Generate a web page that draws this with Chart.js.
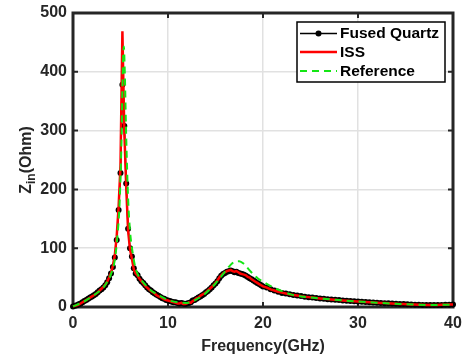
<!DOCTYPE html>
<html><head><meta charset="utf-8">
<script src="https://cdn.jsdelivr.net/npm/chart.js@4.4.1/dist/chart.umd.min.js"></script>
<style>html,body{margin:0;padding:0;background:#fff;}canvas{display:block;}</style>
</head><body>
<canvas id="c" width="462" height="358"></canvas>
<script>
// ---------- data ----------
const seriesNames = ['Fused Quartz', 'ISS', 'Reference'];
const xTickValues = [0, 10, 20, 30, 40];
const yTickValues = [0, 100, 200, 300, 400, 500];

const freq = [0,0.2,0.4,0.6,0.8,1,1.2,1.4,1.6,1.8,2,2.2,2.4,2.6,2.8,3,3.2,3.4,3.6,3.8,4,4.2,4.4,4.6,4.8,5,5.2,5.4,5.6,5.8,6,6.2,6.4,6.6,6.8,7,7.2,7.4,7.6,7.8,8,8.2,8.4,8.6,8.8,9,9.2,9.4,9.6,9.8,10,10.2,10.4,10.6,10.8,11,11.2,11.4,11.6,11.8,12,12.2,12.4,12.6,12.8,13,13.2,13.4,13.6,13.8,14,14.2,14.4,14.6,14.8,15,15.2,15.4,15.6,15.8,16,16.2,16.4,16.6,16.8,17,17.2,17.4,17.6,17.8,18,18.2,18.4,18.6,18.8,19,19.2,19.4,19.6,19.8,20,20.4,20.8,21.2,21.6,22,22.4,22.8,23.2,23.6,24,24.4,24.8,25.2,25.6,26,26.4,26.8,27.2,27.6,28,28.4,28.8,29.2,29.6,30,30.4,30.8,31.2,31.6,32,32.4,32.8,33.2,33.6,34,34.4,34.8,35.2,35.6,36,36.4,36.8,37.2,37.6,38,38.4,38.8,39.2,39.6,40];

const fusedQuartz = [1,2,3,4.5,6,8,10,12,14,16,
18,20,22,25,28,30,33,37,42,49,
57,68,84,114,165,228,378,308,210,133,
100,86,66,57,54,48,44,41,37,33,
30,28,25,23,21,19,17,15,14,12,
11,10,9,8,8,7,6,7,6,5,
6,7,8,11,12,14,16,18,20,22,
25,27,30,33,37,40,44,49,53,56,
58,60,61,62,61,59,60,58,57,56,
55,53,51,49,47,45,43,41,39,37,
35,
33,30,28,26,24,23,21.5,20.5,19.5,18.5,
17.5,16.5,16,15.2,14.5,14,13.3,12.8,12.2,11.7,
11.2,10.7,10.2,9.8,9.3,8.9,8.5,8.1,7.7,7.3,
6.9,6.5,6.2,5.8,5.5,5.2,4.9,4.6,4.3,4.0,
3.8,3.6,3.5,3.4,3.4,3.5,3.6,3.8,4,4.2];

const iss = [1,2,3,4,6,8,10,12,14,16,
18,20,22,25,28,31,34,38,43,50,
58,70,88,120,170,240,469,300,205,130,
98,82,64,57,53,48,44,40,36,33,
30,27,25,23,20,18,17,15,13,12,
11,10,9,8,7,6,6,7,5,5,
6,8,7,10,12,15,16,19,21,23,
25,28,31,34,37,41,45,50,54,57,
59,61,62,63,61,60,61,59,57,56,
55,54,51,50,47,45,43,41,39,37,
35,
33,30,28,26,24.5,23,21.5,20.5,19.5,18.5,
17.5,16.8,16,15.3,14.6,14,13.4,12.8,12.3,11.7,
11.2,10.7,10.3,9.8,9.4,9,8.6,8.2,7.8,7.4,
7,6.6,6.3,5.9,5.6,5.3,5,4.7,4.4,4.1,
3.9,3.7,3.6,3.5,3.5,3.6,3.7,3.9,4.1,4.3];

const refFreq = [0,1,2,3,3.5,4,4.4,4.7,4.9,5.1,5.2,5.3,5.35,5.45,5.6,5.8,6,6.3,6.6,7,7.5,8,9,10,11,12,13,14,15,16,16.5,17,17.5,18,18.5,19,19.5,20,21,22,23,24,26,28,30,32,34,36,38,40];
const reference = [1,8,18,30,40,56,80,125,175,280,370,435,443,400,290,185,130,90,65,50,40,31,20,12,8,7,13,24,40,60,70,77,78,73,64,55,48,43,34,27,21,18,14.5,11.7,9.3,7.3,5.5,4.0,3.4,4.2];

// ---------- drawing ----------
const AX = '#262626';
const FONT = '"Liberation Sans", Arial, sans-serif';
const toXY = (xs, ys) => xs.map((v, i) => ({x: v, y: ys[i]}));

const framePlugin = {
  id: 'frame',
  beforeDatasetsDraw(chart) {
    const {ctx, chartArea: a, scales: {x, y}} = chart;
    ctx.save();
    ctx.strokeStyle = AX;
    ctx.lineWidth = 2;
    const tl = 5;
    xTickValues.forEach(v => {
      const p = x.getPixelForValue(v);
      ctx.beginPath();
      ctx.moveTo(p, a.bottom); ctx.lineTo(p, a.bottom - tl);
      ctx.moveTo(p, a.top); ctx.lineTo(p, a.top + tl);
      ctx.stroke();
    });
    yTickValues.forEach(v => {
      const p = y.getPixelForValue(v);
      ctx.beginPath();
      ctx.moveTo(a.left, p); ctx.lineTo(a.left + tl, p);
      ctx.moveTo(a.right, p); ctx.lineTo(a.right - tl, p);
      ctx.stroke();
    });
    ctx.lineWidth = 3;
    ctx.strokeRect(a.left, a.top, a.right - a.left, a.bottom - a.top);
    // y title with subscript
    ctx.fillStyle = AX;
    ctx.translate(27, (a.top + a.bottom) / 2);
    ctx.rotate(-Math.PI / 2);
    ctx.textBaseline = 'middle';
    ctx.textAlign = 'left';
    const big = 'bold 16px ' + FONT, small = 'bold 12px ' + FONT;
    ctx.font = big; const w1 = ctx.measureText('Z').width; const w3 = ctx.measureText('(Ohm)').width;
    ctx.font = small; const w2 = ctx.measureText('in').width;
    let sx = -(w1 + w2 + w3) / 2;
    ctx.font = big; ctx.fillText('Z', sx, 0); sx += w1;
    ctx.font = small; ctx.fillText('in', sx, 5); sx += w2;
    ctx.font = big; ctx.fillText('(Ohm)', sx, 0);
    ctx.restore();
  },
  afterDatasetsDraw(chart) {
    const ctx = chart.ctx;
    const ds = chart.data.datasets;
    ctx.save();
    const bx = 297, by = 22, bw = 148, bh = 60;
    ctx.fillStyle = '#fff';
    ctx.fillRect(bx, by, bw, bh);
    ctx.strokeStyle = '#000';
    ctx.lineWidth = 1.5;
    ctx.strokeRect(bx, by, bw, bh);
    const rows = [33.5, 52, 71];
    ds.forEach((d, i) => {
      const yy = rows[i];
      ctx.save();
      ctx.strokeStyle = d.borderColor;
      ctx.lineWidth = d.borderWidth;
      ctx.setLineDash(d.borderDash || []);
      ctx.beginPath(); ctx.moveTo(300, yy); ctx.lineTo(337, yy); ctx.stroke();
      ctx.restore();
      if (d.pointRadius > 0) {
        ctx.fillStyle = d.pointBackgroundColor;
        ctx.beginPath(); ctx.arc(318.5, yy, 3, 0, Math.PI * 2); ctx.fill();
      }
      ctx.fillStyle = '#000';
      ctx.font = 'bold 15.5px ' + FONT;
      ctx.textBaseline = 'middle';
      ctx.textAlign = 'left';
      ctx.fillText(d.label, 340, yy + 0.5);
    });
    ctx.restore();
  }
};

new Chart(document.getElementById('c'), {
  type: 'line',
  data: {
    datasets: [
      {label: seriesNames[0], data: toXY(freq, fusedQuartz), borderColor: '#000', borderWidth: 1.5,
       pointRadius: 3, pointBackgroundColor: '#000', pointBorderWidth: 0, tension: 0, order: 3, clip: false},
      {label: seriesNames[1], data: toXY(freq, iss), borderColor: '#ff0000', borderWidth: 2.5,
       pointRadius: 0, tension: 0, order: 2, clip: false},
      {label: seriesNames[2], data: toXY(refFreq, reference), borderColor: '#14e614', borderWidth: 2,
       borderDash: [7, 5], pointRadius: 0, cubicInterpolationMode: 'monotone', order: 1, clip: false}
    ]
  },
  options: {
    responsive: false,
    devicePixelRatio: 1,
    animation: false,
    events: [],
    layout: {padding: {top: 13, right: 9, left: 0, bottom: 0}},
    plugins: {legend: {display: false}, tooltip: {enabled: false}},
    scales: {
      x: {
        type: 'linear', min: 0, max: 40,
        afterBuildTicks: s => { s.ticks = xTickValues.map(v => ({value: v})); },
        afterFit: s => { s.height = 51; s.paddingLeft = 0; s.paddingRight = 0; },
        grid: {color: '#e1e1e1', lineWidth: 1.5, drawTicks: false},
        border: {display: false},
        ticks: {color: AX, font: {family: FONT, size: 16, weight: 'bold'}, padding: 7, maxRotation: 0},
        title: {display: true, text: 'Frequency(GHz)', color: AX, font: {family: FONT, size: 16, weight: 'bold'}, padding: {top: 0, bottom: 2}}
      },
      y: {
        type: 'linear', min: 0, max: 500,
        afterBuildTicks: s => { s.ticks = yTickValues.map(v => ({value: v})); },
        afterFit: s => { s.width = 73; s.paddingTop = 0; s.paddingBottom = 0; },
        grid: {color: '#e1e1e1', lineWidth: 1.5, drawTicks: false},
        border: {display: false},
        ticks: {color: AX, font: {family: FONT, size: 16, weight: 'bold'}, padding: 6}
      }
    }
  },
  plugins: [framePlugin]
});
</script>
</body></html>
